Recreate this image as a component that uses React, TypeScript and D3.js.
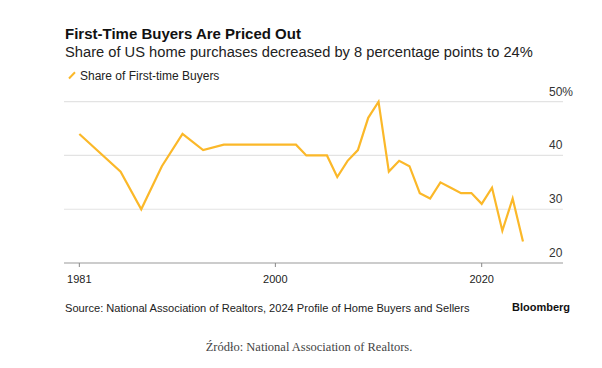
import React, { useEffect, useRef } from 'react';
import * as d3 from 'd3';

const years = [1981, 1985, 1987, 1989, 1991, 1993, 1995, 1997, 1999, 2001, 2002, 2003, 2004, 2005, 2006, 2007, 2008, 2009, 2010, 2011, 2012, 2013, 2014, 2015, 2016, 2017, 2018, 2019, 2020, 2021, 2022, 2023, 2024];
const shares = [44, 37, 30, 38, 44, 41, 42, 42, 42, 42, 42, 40, 40, 40, 36, 39, 41, 47, 50, 37, 39, 38, 33, 32, 35, 34, 33, 33, 31, 34, 26, 32, 24];
const xTicks = [1981, 2000, 2020];
const yTicks = [20, 30, 40, 50];

const sans = "'Liberation Sans', Arial, sans-serif";
const lineColor = '#fbb829';

export default function App() {
  const ref = useRef<SVGSVGElement>(null);

  useEffect(() => {
    const svg = d3.select(ref.current);
    svg.selectAll('*').remove();

    const x = d3.scaleLinear().domain([1979.61, 2027.88]).range([65, 563]);
    const y = d3.scaleLinear().domain([20, 50]).range([263, 101.7]);

    svg.append('rect').attr('width', 602).attr('height', 368).attr('fill', '#fff');

    svg.append('text').attr('x', 65).attr('y', 39)
      .attr('font-family', sans).attr('font-weight', 700).attr('font-size', 15)
      .attr('fill', '#111')
      .text('First-Time Buyers Are Priced Out');
    svg.append('text').attr('x', 65).attr('y', 57)
      .attr('font-family', sans).attr('font-size', 14.7).attr('fill', '#222')
      .text('Share of US home purchases decreased by 8 percentage points to 24%');

    // legend
    svg.append('line').attr('x1', 69).attr('y1', 78.5).attr('x2', 75).attr('y2', 72.3)
      .attr('stroke', lineColor).attr('stroke-width', 2);
    svg.append('text').attr('x', 80).attr('y', 80)
      .attr('font-family', sans).attr('font-size', 12).attr('fill', '#222')
      .text('Share of First-time Buyers');

    // gridlines
    svg.append('g').selectAll('line')
      .data(yTicks.filter(d => d > 20))
      .enter().append('line')
      .attr('x1', 64).attr('x2', 563)
      .attr('y1', d => y(d)).attr('y2', d => y(d))
      .attr('stroke', '#e3e3e3').attr('stroke-width', 1.2);

    svg.append('g').selectAll('text')
      .data(yTicks)
      .enter().append('text')
      .attr('x', 549).attr('y', d => y(d) - 6)
      .attr('font-family', sans).attr('font-size', 12).attr('fill', '#333')
      .text(d => (d === 50 ? '50%' : String(d)));

    // x axis
    svg.append('line').attr('x1', 64).attr('x2', 563).attr('y1', 263).attr('y2', 263)
      .attr('stroke', '#999').attr('stroke-width', 1.2);
    const xt = svg.append('g').selectAll('g').data(xTicks).enter().append('g');
    xt.append('line')
      .attr('x1', d => x(d)).attr('x2', d => x(d)).attr('y1', 263).attr('y2', 267)
      .attr('stroke', '#888');
    xt.append('text')
      .attr('x', d => x(d)).attr('y', 283).attr('text-anchor', 'middle')
      .attr('font-family', sans).attr('font-size', 11).attr('fill', '#222')
      .text(d => String(d));

    const line = d3.line<number>().x((_, i) => x(years[i])).y(d => y(d));
    svg.append('path').datum(shares)
      .attr('d', line)
      .attr('fill', 'none').attr('stroke', lineColor).attr('stroke-width', 2.2)
      .attr('stroke-linejoin', 'miter');

    svg.append('text').attr('x', 65).attr('y', 312)
      .attr('font-family', sans).attr('font-size', 11.1).attr('fill', '#222')
      .text('Source: National Association of Realtors, 2024 Profile of Home Buyers and Sellers');
    svg.append('text').attr('x', 570).attr('y', 311).attr('text-anchor', 'end')
      .attr('font-family', sans).attr('font-weight', 700).attr('font-size', 11).attr('fill', '#111')
      .text('Bloomberg');

    svg.append('text').attr('x', 309).attr('y', 351).attr('text-anchor', 'middle')
      .attr('font-family', "'Liberation Serif', 'DejaVu Serif', serif").attr('font-size', 12.5).attr('fill', '#444')
      .text('Źródło: National Association of Realtors.');
  }, []);

  return (
    <svg ref={ref} width={602} height={368} style={{ position: 'absolute', left: 0, top: 0 }} />
  );
}
